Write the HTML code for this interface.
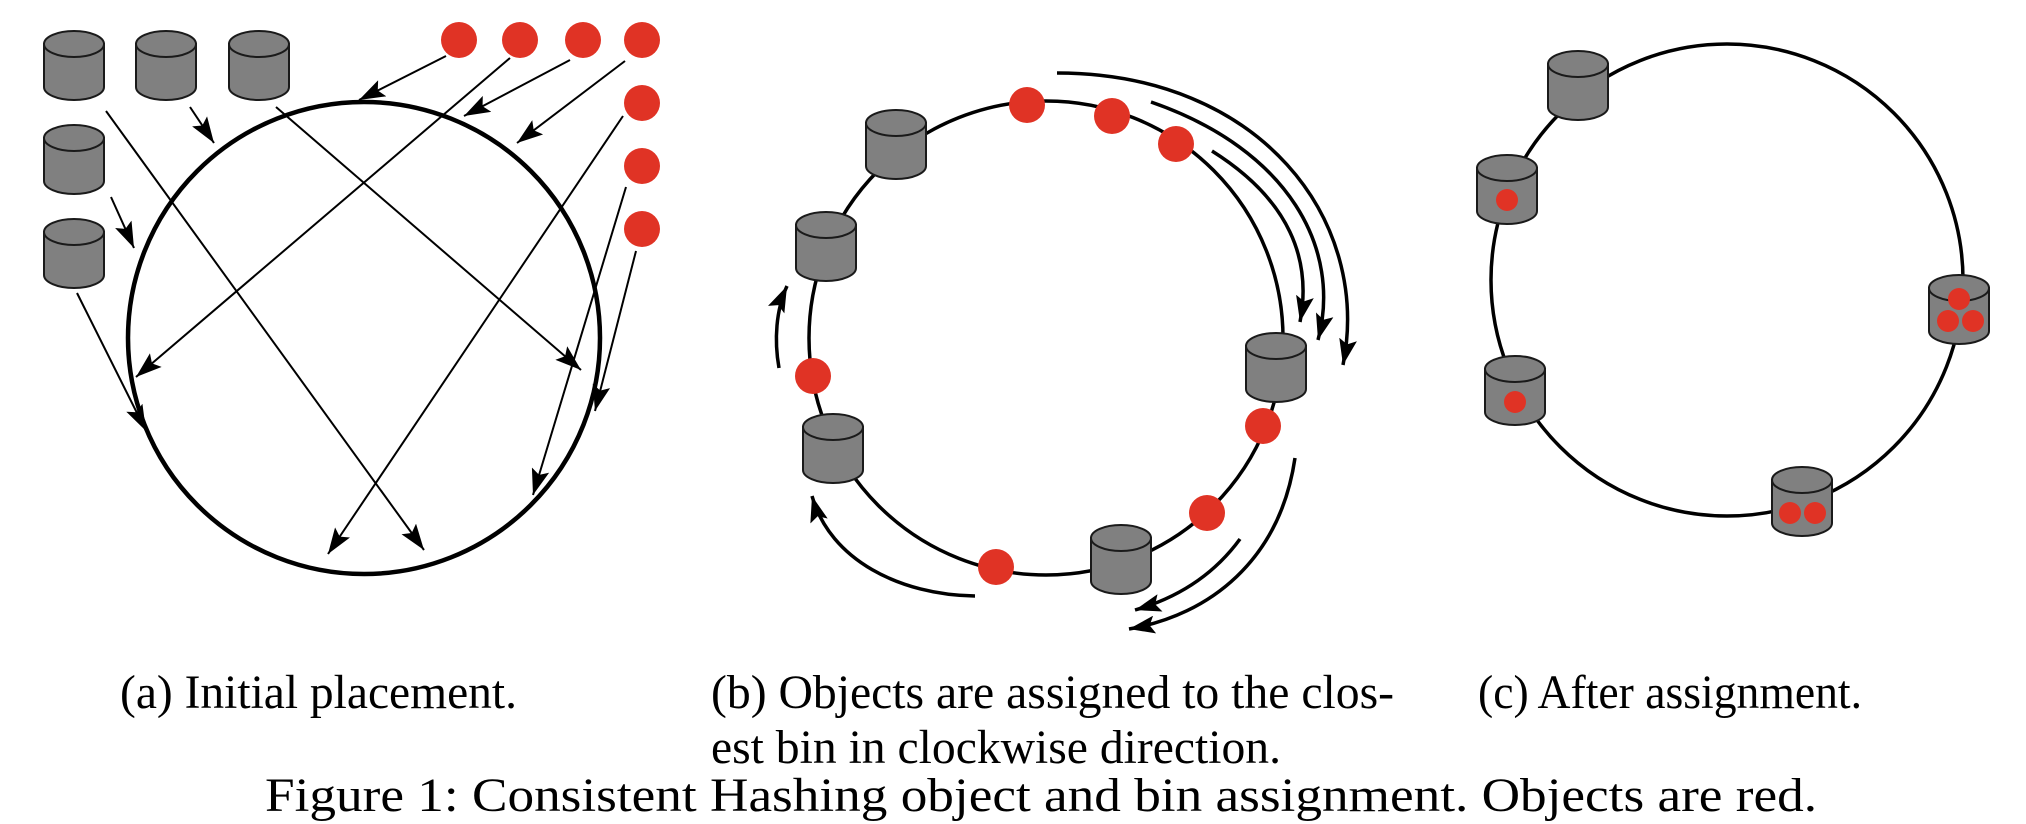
<!DOCTYPE html>
<html><head><meta charset="utf-8"><style>
html,body{margin:0;padding:0;background:#fff;}
svg{display:block;}
text{font-family:"Liberation Serif","Times New Roman",serif;font-size:48px;fill:#000;}
</style></head><body>
<svg width="2026" height="824" viewBox="0 0 2026 824" xmlns="http://www.w3.org/2000/svg">
<defs>
<g id="cyl">
<path d="M-30,13 L-30,56 A30,13 0 0 0 30,56 L30,13 Z" fill="#808080" stroke="#1a1a1a" stroke-width="2"/>
<ellipse cx="0" cy="13" rx="30" ry="13" fill="#808080" stroke="#1a1a1a" stroke-width="2"/>
</g>
<marker id="ah" markerUnits="userSpaceOnUse" markerWidth="28" markerHeight="18" refX="26" refY="9" orient="auto">
<path d="M0,0 L26,9 L0,18 L5,9 Z" fill="#000"/>
</marker>
</defs>

<!-- Panel a -->
<circle cx="364" cy="338" r="236" fill="none" stroke="#000" stroke-width="4.5"/>
<use href="#cyl" x="74" y="31"/>
<use href="#cyl" x="166" y="31"/>
<use href="#cyl" x="259" y="31"/>
<use href="#cyl" x="74" y="125"/>
<use href="#cyl" x="74" y="219"/>
<g fill="#e03325">
<circle cx="459" cy="40" r="18"/><circle cx="520" cy="40" r="18"/>
<circle cx="583" cy="40" r="18"/><circle cx="642" cy="40" r="18"/>
<circle cx="642" cy="103" r="18"/><circle cx="642" cy="166" r="18"/>
<circle cx="642" cy="229" r="18"/>
</g>
<g stroke="#000" stroke-width="2" marker-end="url(#ah)" fill="none">
<line x1="106" y1="111" x2="424" y2="550"/>
<line x1="190" y1="107" x2="214" y2="143"/>
<line x1="276" y1="107" x2="581" y2="370"/>
<line x1="111" y1="197" x2="134" y2="248"/>
<line x1="77" y1="293" x2="146" y2="431"/>
<line x1="446" y1="56" x2="359" y2="100"/>
<line x1="510" y1="58" x2="136" y2="377"/>
<line x1="570" y1="60" x2="464" y2="116"/>
<line x1="625" y1="61" x2="517" y2="143"/>
<line x1="623" y1="116" x2="328" y2="554"/>
<line x1="626" y1="187" x2="533" y2="495"/>
<line x1="636" y1="251" x2="595" y2="411"/>
</g>

<!-- Panel b -->
<circle cx="1046" cy="338" r="237" fill="none" stroke="#000" stroke-width="3.5"/>
<g stroke="#000" stroke-width="3.5" fill="none" marker-end="url(#ah)">
<path d="M1057,73 C1260,73 1372,220 1343,365"/>
<path d="M1151,102 C1290,150 1342,250 1318,340"/>
<path d="M1212,151 C1290,200 1312,260 1300,322"/>
<path d="M779,368 C774,340 776,310 787,286"/>
<path d="M975,596 C900,595 830,560 812,496"/>
<path d="M1240,539 C1210,580 1170,600 1135,610"/>
<path d="M1295,458 C1280,560 1210,615 1129,629"/>
</g>
<use href="#cyl" x="896" y="110"/>
<use href="#cyl" x="826" y="212"/>
<use href="#cyl" x="833" y="414"/>
<use href="#cyl" x="1276" y="333"/>
<use href="#cyl" x="1121" y="525"/>
<g fill="#e03325">
<circle cx="1027" cy="105" r="18"/><circle cx="1112" cy="116" r="18"/>
<circle cx="1176" cy="144" r="18"/><circle cx="813" cy="376" r="18"/>
<circle cx="1263" cy="426" r="18"/><circle cx="1207" cy="513" r="18"/>
<circle cx="996" cy="567" r="18"/>
</g>

<!-- Panel c -->
<circle cx="1727" cy="280" r="236" fill="none" stroke="#000" stroke-width="3.5"/>
<use href="#cyl" x="1578" y="51"/>
<use href="#cyl" x="1507" y="155"/>
<use href="#cyl" x="1515" y="356"/>
<use href="#cyl" x="1959" y="275"/>
<use href="#cyl" x="1802" y="467"/>
<g fill="#e03325">
<circle cx="1507" cy="200" r="11"/>
<circle cx="1515" cy="402" r="11"/>
<circle cx="1959" cy="299" r="11"/><circle cx="1948" cy="321" r="11"/><circle cx="1973" cy="321" r="11"/>
<circle cx="1790" cy="513" r="11"/><circle cx="1815" cy="513" r="11"/>
</g>

<!-- Captions -->
<text x="120" y="708" textLength="397" lengthAdjust="spacingAndGlyphs">(a) Initial placement.</text>
<text x="711" y="708" textLength="683" lengthAdjust="spacingAndGlyphs">(b) Objects are assigned to the clos-</text>
<text x="711" y="763" textLength="570" lengthAdjust="spacingAndGlyphs">est bin in clockwise direction.</text>
<text x="1478" y="708" textLength="384" lengthAdjust="spacingAndGlyphs">(c) After assignment.</text>
<text x="265" y="811" textLength="1552" lengthAdjust="spacingAndGlyphs">Figure 1: Consistent Hashing object and bin assignment. Objects are red.</text>
</svg>
</body></html>
